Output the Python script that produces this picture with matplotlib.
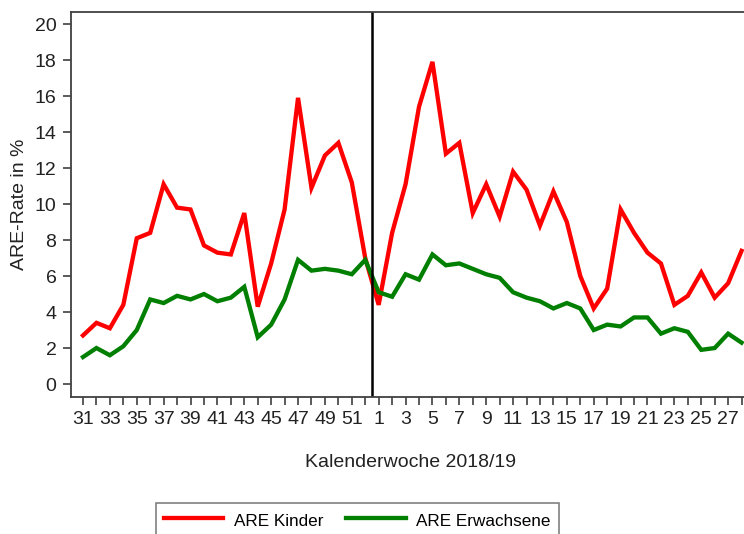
import numpy as np
import matplotlib
matplotlib.use("Agg")
import matplotlib.pyplot as plt

# Kalenderwochen 31/2018 bis 28/2019
weeks = list(range(31, 53)) + list(range(1, 29))

kinder = [2.7, 3.4, 3.1, 4.4, 8.1, 8.4, 11.1, 9.8, 9.7, 7.7, 7.3, 7.2, 9.5, 4.3,
          6.7, 9.7, 15.9, 10.9, 12.7, 13.4, 11.2, 7.0,
          4.4, 8.4, 11.1, 15.4, 17.9, 12.8, 13.4, 9.5, 11.1, 9.3, 11.8, 10.8, 8.8,
          10.7, 9.0, 6.0, 4.2, 5.3, 9.7, 8.4, 7.3, 6.7, 4.4, 4.9, 6.2, 4.8, 5.6, 7.4]

erwachsene = [1.5, 2.0, 1.6, 2.1, 3.0, 4.7, 4.5, 4.9, 4.7, 5.0, 4.6, 4.8, 5.4, 2.6,
              3.3, 4.7, 6.9, 6.3, 6.4, 6.3, 6.1, 6.9,
              5.1, 4.85, 6.1, 5.8, 7.2, 6.6, 6.7, 6.4, 6.1, 5.9, 5.1, 4.8, 4.6,
              4.2, 4.5, 4.2, 3.0, 3.3, 3.2, 3.7, 3.7, 2.8, 3.1, 2.9, 1.9, 2.0, 2.8, 2.3]

y_ticks = list(range(0, 21, 2))

plt.rcParams['font.family'] = ['Liberation Sans', 'DejaVu Sans']

fig = plt.figure(figsize=(7.44, 5.34), dpi=100)
ax = fig.add_axes([71 / 744, 1 - 397 / 534, 679 / 744, 385 / 534])

x = np.arange(len(weeks))
ax.plot(x, kinder, color='#FF0000', lw=3.1, label='ARE Kinder', solid_joinstyle='miter')
ax.plot(x, erwachsene, color='#007F00', lw=3.1, label='ARE Erwachsene', solid_joinstyle='miter')

# Jahreswechsel
ax.axvline(21.5, color='black', lw=1.8)

ax.set_xlim(-0.893, -0.893 + 679 / 13.44)
ax.set_ylim(-0.72, 20.67)

ax.set_xticks(x)
ax.set_xticklabels([str(w) if w % 2 == 1 else '' for w in weeks])
ax.set_yticks(y_ticks)

for s in ['left', 'bottom', 'top']:
    ax.spines[s].set_color('#404040')
    ax.spines[s].set_linewidth(1.3)
ax.spines['right'].set_visible(False)
ax.tick_params(axis='both', colors='#404040', labelcolor='#222222', labelsize=14,
               width=1.2, direction='out')
ax.tick_params(axis='x', length=6, pad=4)
ax.tick_params(axis='y', length=5.5, pad=5)

ax.set_xlabel('Kalenderwoche 2018/19', fontsize=14, color='#222222', labelpad=19)
ax.set_ylabel('ARE-Rate in %', fontsize=14, color='#222222', labelpad=5)

leg = fig.legend(loc='upper left', bbox_to_anchor=(156 / 744, 1 - 503 / 534),
                 ncol=2, fontsize=12.3, frameon=True, fancybox=False,
                 handlelength=3.5, handleheight=1.3, handletextpad=0.6,
                 columnspacing=1.35, borderpad=0.45, borderaxespad=0)
leg.get_frame().set_edgecolor('#606060')
leg.get_frame().set_linewidth(1.2)

fig.savefig('out.png', dpi=100)
